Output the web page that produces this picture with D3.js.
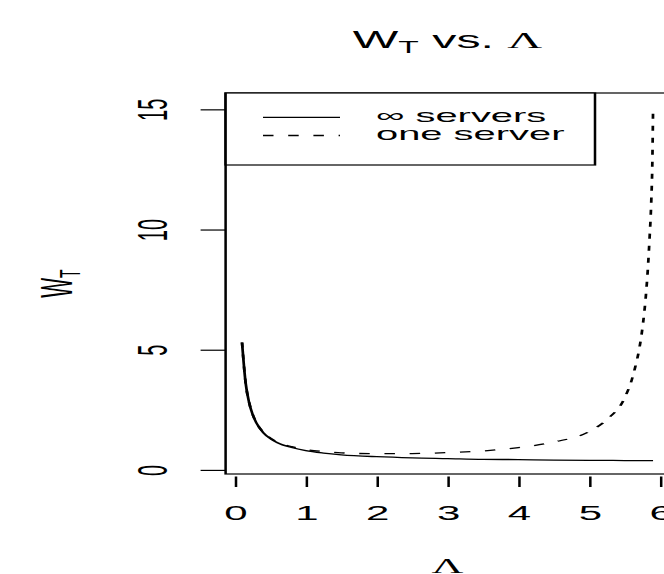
<!DOCTYPE html>
<html>
<head>
<meta charset="utf-8">
<script src="https://cdn.jsdelivr.net/npm/d3@7"></script>
<style>
  html, body { margin: 0; padding: 0; background: #fff; }
  svg { display: block; }
  text { font-family: "Liberation Sans", Arial, Helvetica, sans-serif; fill: #000; }
</style>
</head>
<body>
<svg id="chart" width="664" height="574"></svg>
<script>
// ---- data ----
const lambda = [0.1, 0.15, 0.2, 0.25, 0.3, 0.4, 0.5, 0.6, 0.8, 1.0, 1.25, 1.5, 2, 2.5, 3, 3.5, 4, 4.5, 5, 5.25, 5.5, 5.6, 5.65, 5.7, 5.75, 5.8, 5.825, 5.85, 5.875, 5.89, 5.9];
const infServers = [5.30, 3.63, 2.80, 2.30, 1.97, 1.55, 1.30, 1.13, 0.93, 0.80, 0.70, 0.63, 0.55, 0.50, 0.47, 0.44, 0.43, 0.41, 0.40, 0.395, 0.39, 0.39, 0.389, 0.388, 0.387, 0.386, 0.386, 0.385, 0.385, 0.385, 0.385];
const oneServer  = [5.30, 3.64, 2.81, 2.31, 1.98, 1.57, 1.32, 1.16, 0.97, 0.85, 0.77, 0.71, 0.675, 0.68, 0.72, 0.79, 0.93, 1.16, 1.60, 2.10, 3.00, 3.75, 4.30, 4.95, 5.90, 7.30, 8.30, 9.60, 11.2, 12.8, 15.0];
const xTicks = [0, 1, 2, 3, 4, 5, 6];
const yTicks = [0, 5, 10, 15];
const legendLabels = ["\u221E servers", "one server"];

// ---- layout ----
const SX = 2.1;               // horizontal stretch of the original picture
const fr = { left: 225.6, right: 669.5, top: 93, bottom: 474 };
const xDomain = [-0.132, 6.132];
const yDomain = [-0.17, 15.68];

const svg = d3.select("#chart");
const root = svg.append("g").attr("transform", `scale(${SX},1)`);

const x = d3.scaleLinear().domain(xDomain).range([fr.left / SX, fr.right / SX]);
const y = d3.scaleLinear().domain(yDomain).range([fr.bottom, fr.top]);

// clip to plot region
root.append("clipPath").attr("id", "plotclip")
  .append("rect")
  .attr("x", x(xDomain[0])).attr("y", y(yDomain[1]))
  .attr("width", x(xDomain[1]) - x(xDomain[0]))
  .attr("height", y(yDomain[0]) - y(yDomain[1]));

const line = d3.line().curve(d3.curveMonotoneX);
const ptsInf = lambda.map((l, i) => [x(l), y(infServers[i])]);
const ptsOne = lambda.map((l, i) => [x(l), y(oneServer[i])]);

const plot = root.append("g").attr("clip-path", "url(#plotclip)");
plot.append("path").attr("d", line(ptsOne))
  .attr("fill", "none").attr("stroke", "#000").attr("stroke-width", 1.3)
  .attr("stroke-dasharray", "5,7");
plot.append("path").attr("d", line(ptsInf))
  .attr("fill", "none").attr("stroke", "#000").attr("stroke-width", 1.3);

// frame
root.append("rect")
  .attr("x", x(xDomain[0])).attr("y", y(yDomain[1]))
  .attr("width", x(xDomain[1]) - x(xDomain[0]))
  .attr("height", y(yDomain[0]) - y(yDomain[1]))
  .attr("fill", "none").attr("stroke", "#000").attr("stroke-width", 1.2);

// x axis
const xAxis = root.append("g")
  .attr("transform", `translate(0,${fr.bottom + 2.5})`)
  .call(d3.axisBottom(x).tickValues(xTicks).tickFormat(d3.format("d"))
        .tickSize(10.5).tickPadding(18.5));
xAxis.select(".domain").remove();
xAxis.selectAll(".tick line").attr("stroke", "#000").attr("stroke-width", 1.2);
xAxis.selectAll(".tick text").attr("font-size", 20).attr("fill", "#000")
  .style("font-family", '"Liberation Sans", Arial, sans-serif');

// y axis
const yAxis = root.append("g")
  .attr("transform", `translate(${x(xDomain[0])},0)`)
  .call(d3.axisLeft(y).tickValues(yTicks).tickFormat(d3.format("d"))
        .tickSize(25 / SX));
yAxis.select(".domain").remove();
yAxis.selectAll(".tick line").attr("stroke", "#000").attr("stroke-width", 1.2);
yAxis.selectAll(".tick text")
  .attr("font-size", 20).attr("fill", "#000")
  .attr("transform", "rotate(-90)")
  .attr("x", 0).attr("y", -(fr.left - 167) / SX).attr("dy", 0)
  .attr("text-anchor", "middle")
  .style("font-family", '"Liberation Sans", Arial, sans-serif');

// title
const cx = (x(xDomain[0]) + x(xDomain[1])) / 2;
const title = root.append("text")
  .attr("x", cx).attr("y", 48).attr("text-anchor", "middle").attr("font-size", 23);
title.append("tspan").text("W");
title.append("tspan").attr("font-size", 16).attr("dy", 5).text("T");
title.append("tspan").attr("dy", -5).text(" vs. ");
title.append("tspan").style("font-family", '"Liberation Serif", "DejaVu Serif", serif').text("\u039B");

// x label
root.append("text")
  .attr("x", cx).attr("y", 573).attr("text-anchor", "middle").attr("font-size", 21)
  .style("font-family", '"Liberation Serif", "DejaVu Serif", serif')
  .text("\u039B");

// y label
const ymid = (fr.top + fr.bottom) / 2;
const ylab = root.append("text")
  .attr("transform", `translate(${72 / SX},${ymid}) rotate(-90)`)
  .attr("text-anchor", "middle").attr("font-size", 21);
ylab.append("tspan").text("W");
ylab.append("tspan").attr("font-size", 14).attr("dy", 4).text("T");

// legend
const lg = root.append("g");
lg.append("rect")
  .attr("x", x(xDomain[0])).attr("y", fr.top)
  .attr("width", 595 / SX - x(xDomain[0])).attr("height", 165 - fr.top)
  .attr("fill", "#fff").attr("stroke", "#000").attr("stroke-width", 1.2);
const rowsY = [117.3, 135.5];
const dashes = [null, "5,7"];
legendLabels.forEach((lab, i) => {
  lg.append("line")
    .attr("x1", 263 / SX).attr("x2", 340 / SX)
    .attr("y1", rowsY[i]).attr("y2", rowsY[i])
    .attr("stroke", "#000").attr("stroke-width", 1.3)
    .attr("stroke-dasharray", dashes[i]);
  lg.append("text")
    .attr("x", 376 / SX).attr("y", rowsY[i]).attr("dy", "0.24em")
    .attr("font-size", 19).text(lab);
});
</script>
</body>
</html>
